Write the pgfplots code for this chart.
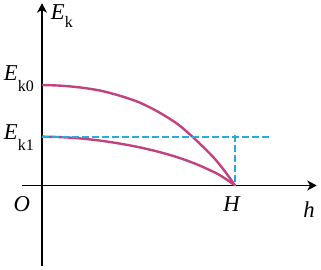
\documentclass[border=0pt]{standalone}
\usepackage{fontspec}
\setmainfont{Liberation Serif}
\usepackage{pgfplots}
\pgfplotsset{compat=1.18}
\usetikzlibrary{arrows.meta}
\definecolor{curvecol}{HTML}{C2427F}
\definecolor{dashcol}{HTML}{2AA9DF}
\newcommand{\lblmain}[1]{{\fontsize{17}{20}\selectfont\itshape #1}}
\newcommand{\lblsub}[2]{{\fontsize{12}{14}\selectfont\raisebox{-#1pt}{#2}}}
\begin{document}
\begin{tikzpicture}
\begin{axis}[
  scale only axis, width=240.75pt, height=202.5pt,
  xmin=-0.2176, xmax=1.4456, ymin=-0.841, ymax=1.846,
  hide axis, clip=false,
]
\path (rel axis cs:0,0) rectangle (rel axis cs:1,1);
% axes
\draw[line width=1pt,-{Stealth[length=7pt,width=7.5pt,inset=2pt]}] (axis cs:0,-0.805) -- (axis cs:0,1.813);
\draw[line width=1pt,-{Stealth[length=7pt,width=7.5pt,inset=2pt]}] (axis cs:-0.105,0) -- (axis cs:1.423,0);
% curves
\addplot[color=curvecol, line width=1.8pt, smooth] coordinates {
 (0,1.0) (0.1,0.993) (0.2,0.975) (0.3,0.945) (0.4,0.895) (0.5,0.83) (0.6,0.735)
 (0.7,0.615) (0.777,0.49) (0.85,0.355) (0.9,0.255) (0.95,0.135) (1,0)};
\addplot[color=curvecol, line width=1.8pt, smooth] coordinates {
 (0,0.486) (0.1,0.481) (0.2,0.468) (0.3,0.447) (0.4,0.418) (0.5,0.382) (0.6,0.337)
 (0.7,0.282) (0.8,0.212) (0.9,0.125) (0.95,0.068) (1,0)};
% dashed guides
\addplot[color=dashcol, line width=1.3pt, dash pattern=on 5pt off 2.5pt] coordinates {(0,0.486) (1.181,0.486)};
\addplot[color=dashcol, line width=1.3pt, dash pattern=on 5pt off 2.5pt] coordinates {(1,0.50) (1,0)};
% labels
\node[anchor=base west, inner sep=0pt] at (axis cs:0.045,1.654) {\lblmain{E}\lblsub{6.5}{k}};
\node[anchor=base east, inner sep=0pt] at (axis cs:-0.041,1.04) {\lblmain{E}\lblsub{8}{k0}};
\node[anchor=base east, inner sep=0pt] at (axis cs:-0.041,0.453) {\lblmain{E}\lblsub{8}{k1}};
\node[anchor=base, inner sep=0pt] at (axis cs:-0.105,-0.261) {\lblmain{O}};
\node[anchor=base, inner sep=0pt] at (axis cs:0.982,-0.261) {\lblmain{H}};
\node[anchor=base, inner sep=0pt] at (axis cs:1.383,-0.323) {\lblmain{h}};
\end{axis}
\end{tikzpicture}
\end{document}
